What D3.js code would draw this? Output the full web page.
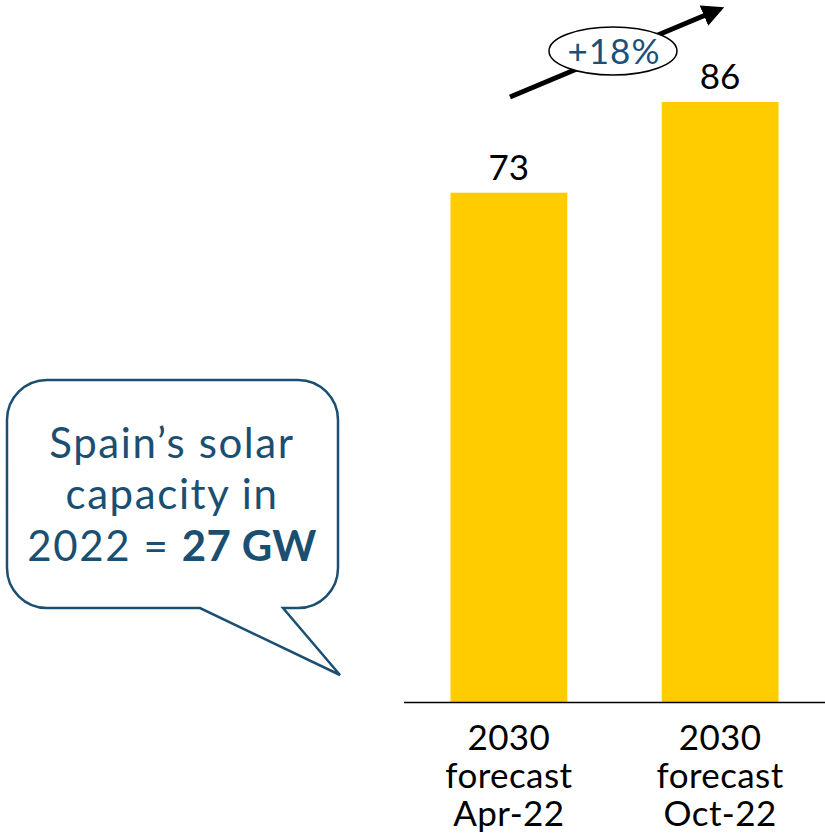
<!DOCTYPE html>
<html><head><meta charset="utf-8">
<script src="https://cdn.jsdelivr.net/npm/d3@7"></script>
<style>html,body{margin:0;padding:0;background:#fff;}svg{display:block;}</style>
</head><body>
<svg id="c" width="825" height="835"></svg>
<script>
const categories = [["2030","forecast","Apr-22"],["2030","forecast","Oct-22"]];
const values = [73, 86];
const changeLabel = "+18%";
const calloutLines = ["Spain\u2019s solar", "capacity in"];
const calloutLast = ["2022 = ", "27 GW"];

const svg = d3.select("#c");
const font = "Lato, 'Open Sans', sans-serif";
const baseY = 702;
const y = d3.scaleLinear().domain([0, 86]).range([baseY, 102]);
const x = d3.scaleBand().domain(d3.range(values.length)).range([404, 825]).paddingInner(0.447).paddingOuter(0.22);

svg.selectAll("rect.bar").data(values).join("rect").attr("class","bar")
  .attr("x",(d,i)=>x(i)).attr("width",x.bandwidth())
  .attr("y",d=>y(d)).attr("height",d=>baseY-y(d)).attr("fill","#FFCC00");

svg.append("line").attr("x1",404).attr("x2",825).attr("y1",baseY+0.5).attr("y2",baseY+0.5)
  .attr("stroke","#000").attr("stroke-width",1.5);

svg.selectAll("text.val").data(values).join("text").attr("class","val")
  .attr("x",(d,i)=>x(i)+x.bandwidth()/2).attr("y",d=>y(d)-13)
  .attr("text-anchor","middle").attr("font-family",font).attr("font-size",35).attr("fill","#000")
  .text(d=>d);

categories.forEach((lines,i)=>{
  const t = svg.append("text").attr("text-anchor","middle").attr("font-family",font)
    .attr("font-size",35).attr("letter-spacing",0.4).attr("fill","#000");
  lines.forEach((l,j)=>t.append("tspan").attr("x",x(i)+x.bandwidth()/2).attr("y",750+j*38).text(l));
});

// arrow
const defs = svg.append("defs");
defs.append("marker").attr("id","ah").attr("viewBox","0 0 10 10").attr("refX",2).attr("refY",5)
  .attr("markerWidth",4.4).attr("markerHeight",4.4).attr("orient","auto")
  .append("path").attr("d","M0,0 L10,5 L0,10 Z").attr("fill","#000");
svg.append("line").attr("x1",510).attr("y1",97).attr("x2",708).attr("y2",14)
  .attr("stroke","#000").attr("stroke-width",5).attr("marker-end","url(#ah)");
svg.append("ellipse").attr("cx",613).attr("cy",51).attr("rx",64).attr("ry",24)
  .attr("fill","#fff").attr("stroke","#000").attr("stroke-width",1.5);
svg.append("text").attr("x",614).attr("y",64).attr("text-anchor","middle").attr("font-family",font)
  .attr("font-size",35).attr("letter-spacing",1).attr("fill","#1B4F7A").text(changeLabel);

// callout
const r = 40, L = 7, T = 380, R = 338, B = 608;
const p = d3.path();
p.moveTo(L+r, T); p.lineTo(R-r, T); p.arcTo(R, T, R, T+r, r); p.lineTo(R, B-r); p.arcTo(R, B, R-r, B, r);
p.lineTo(283, B); p.lineTo(340, 675); p.lineTo(200, B);
p.lineTo(L+r, B); p.arcTo(L, B, L, B-r, r); p.lineTo(L, T+r); p.arcTo(L, T, L+r, T, r); p.closePath();
svg.append("path").attr("d",p.toString()).attr("fill","#fff").attr("stroke","#1B4F72").attr("stroke-width",2.5);
const ct = svg.append("text").attr("text-anchor","middle").attr("font-family",font)
  .attr("font-size",42).attr("letter-spacing",1.6).attr("fill","#1B4F72");
calloutLines.forEach((l,j)=>ct.append("tspan").attr("x",172).attr("y",458+j*51).text(l));
const last = ct.append("tspan").attr("x",172).attr("y",561);
last.text(calloutLast[0]);
ct.append("tspan").attr("font-weight","bold").attr("letter-spacing",0.3).text(calloutLast[1]);
</script>
</body></html>
